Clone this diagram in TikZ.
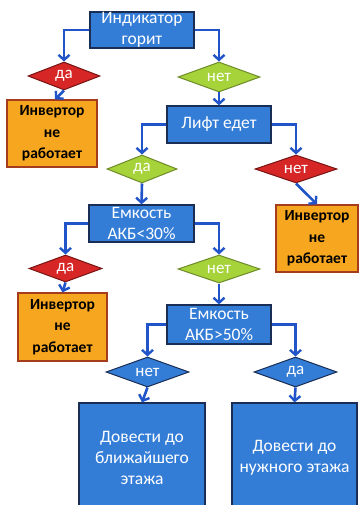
\documentclass[tikz,border=0pt]{standalone}
\usepackage{fontspec}
\setmainfont{Carlito}
\usetikzlibrary{shapes.geometric,arrows.meta}
\definecolor{bfill}{RGB}{52,125,215}
\definecolor{bdraw}{RGB}{25,45,85}
\definecolor{rfill}{RGB}{214,38,38}
\definecolor{rdraw}{RGB}{120,20,20}
\definecolor{gfill}{RGB}{166,210,58}
\definecolor{gdraw}{RGB}{110,140,40}
\definecolor{ofill}{RGB}{247,166,32}
\definecolor{odraw}{RGB}{165,60,30}
\definecolor{arr}{RGB}{32,84,200}
\tikzset{
  bluebox/.style={draw=bdraw, line width=1.3pt, fill=bfill, text=white, align=center,
    font=\fontsize{17.5}{21}\selectfont, inner sep=0pt},
  orangebox/.style={draw=odraw, line width=1.3pt, fill=ofill, text=black, align=center,
    font=\fontsize{15.5}{21.5}\selectfont\bfseries, inner sep=0pt},
  dia/.style={shape=diamond, aspect=2.7, inner sep=0pt, text=white,
    font=\fontsize{17}{18}\selectfont, line width=1pt},
  reddia/.style={dia, draw=rdraw, fill=rfill},
  greendia/.style={dia, draw=gdraw, fill=gfill},
  bluedia/.style={dia, draw=bdraw, fill=bfill},
  flow/.style={draw=arr, line width=2.6pt, -{Straight Barb[length=5pt,width=11pt,line width=2.4pt]}}
}
\begin{document}
\begin{tikzpicture}[x=1pt,y=-1pt]
\useasboundingbox (0,0) rectangle (360,505);
\clip (0,0) rectangle (360,505);
\fill[white] (0,0) rectangle (360,505);
% nodes
\node[bluebox, minimum width=104pt, minimum height=36pt] (A) at (142,30) {Индикатор\\горит};
\node[reddia, minimum width=72pt, minimum height=28pt] (D1) at (64,76) {да};
\node[greendia, minimum width=82pt, minimum height=30pt] (D2) at (219,77) {нет};
\node[orangebox, minimum width=90pt, minimum height=67pt] (O1) at (52,133.5) {Инвертор\\не\\работает};
\node[bluebox, minimum width=104pt, minimum height=37pt] (B) at (219,124.5) {Лифт едет};
\node[greendia, minimum width=70pt, minimum height=28pt] (D3) at (142,169) {да};
\node[reddia, minimum width=82pt, minimum height=28pt] (D4) at (296,169) {нет};
\node[orangebox, minimum width=82pt, minimum height=67pt] (O2) at (317,238.5) {Инвертор\\не\\работает};
\node[bluebox, minimum width=105pt, minimum height=37pt] (C) at (141.5,223.5) {Емкость\\АКБ<30\%};
\node[reddia, minimum width=73pt, minimum height=27pt] (D5) at (65.5,268.5) {да};
\node[greendia, minimum width=82pt, minimum height=28pt] (D6) at (219,269) {нет};
\node[orangebox, minimum width=89pt, minimum height=68pt] (O3) at (62.5,327) {Инвертор\\не\\работает};
\node[bluebox, minimum width=104pt, minimum height=39pt] (E) at (219,324.5) {Емкость\\АКБ>50\%};
\node[bluedia, minimum width=83pt, minimum height=30pt] (D7) at (147.5,372) {нет};
\node[bluedia, minimum width=83pt, minimum height=30pt] (D8) at (295.5,372) {да};
\node[bluebox, minimum width=126pt, minimum height=109pt] (F) at (142,457.5) {Довести до\\ближайшего\\этажа};
\node[bluebox, minimum width=125pt, minimum height=109pt] (G) at (294.5,457.5) {Довести до\\нужного этажа};
% connectors
\draw[flow] (A.west) -| (D1.north);
\draw[flow] (A.east) -| (D2.north);
\draw[flow] (D1.south) -- ([xshift=3pt]O1.north);
\draw[flow] (D2.south) -- (B.north);
\draw[flow] (B.west) -| (D3.north);
\draw[flow] (B.east) -| (D4.north);
\draw[flow] (D3.south) -- (C.north);
\draw[flow] (D4.south) -- (O2.north);
\draw[flow] (C.west) -| (D5.north);
\draw[flow] (C.east) -| (D6.north);
\draw[flow] (D5.south) -- (O3.north);
\draw[flow] (D6.south) -- (E.north);
\draw[flow] (E.west) -| (D7.north);
\draw[flow] (E.east) -| (D8.north);
\draw[flow] (D7.south) -- (F.north);
\draw[flow] (D8.south) -- (G.north);
\end{tikzpicture}
\end{document}
